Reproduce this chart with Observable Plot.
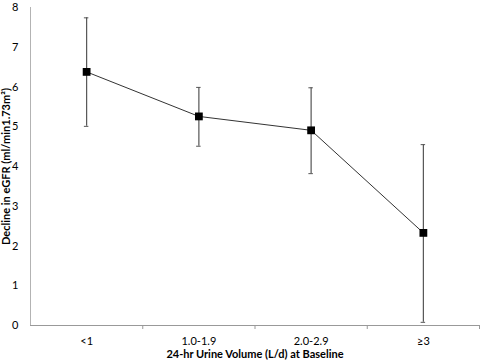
<!DOCTYPE html>
<html>
<head>
<meta charset="utf-8">
<script src="https://cdn.jsdelivr.net/npm/d3@7"></script>
<script src="https://cdn.jsdelivr.net/npm/@observablehq/plot@0.6"></script>
<style>
  html, body { margin: 0; padding: 0; background: #fff; }
  #chart svg [aria-label="x-axis label"],
  #chart svg [aria-label="y-axis label"] { font-weight: bold; }
</style>
</head>
<body>
<div id="chart"></div>
<script>
const categories = ["<1", "1.0-1.9", "2.0-2.9", "≥3"];
const means = [6.38, 5.26, 4.91, 2.33];
const lower = [5.01, 4.51, 3.82, 0.08];
const upper = [7.74, 5.99, 5.98, 4.55];
const yTicks = [0, 1, 2, 3, 4, 5, 6, 7, 8];

const data = categories.map((c, i) => ({
  cat: c, pos: i + 0.5, mean: means[i], lo: lower[i], hi: upper[i]
}));
const boundaries = categories.map((c, i) => i + 1);
const capHalf = 0.02;

const plot = Plot.plot({
  width: 480,
  height: 361,
  marginLeft: 30,
  marginRight: 1,
  marginTop: 7,
  marginBottom: 36,
  style: { fontFamily: "Lato, 'Open Sans', sans-serif", fontSize: "11px", color: "#000", background: "#fff" },
  x: { domain: [0, categories.length] },
  y: { domain: [0, 8] },
  marks: [
    Plot.frame({ anchor: "left", stroke: "#b3b3b3" }),
    Plot.ruleY([0], { stroke: "#999" }),
    Plot.axisY({ ticks: yTicks, tickSize: 0, tickPadding: 12, label: "Decline in eGFR (ml/min1.73m²)", labelAnchor: "center", labelOffset: 28, labelArrow: "none" }),
    Plot.axisX({ ticks: data.map(d => d.pos), tickFormat: (v) => categories[Math.round(v - 0.5)], tickSize: 0, tickPadding: 12, label: "24-hr Urine Volume (L/d) at Baseline", labelAnchor: "center", labelOffset: 32, labelArrow: "none" }),
    Plot.axisX({ ticks: boundaries, tickFormat: () => "", tickSize: 4, stroke: "#999", label: null }),
    Plot.ruleX(data, { x: "pos", y1: "lo", y2: "hi", stroke: "#555", strokeWidth: 1.2 }),
    Plot.ruleY(data, { y: "hi", x1: d => d.pos - capHalf, x2: d => d.pos + capHalf, stroke: "#555" }),
    Plot.ruleY(data, { y: "lo", x1: d => d.pos - capHalf, x2: d => d.pos + capHalf, stroke: "#555" }),
    Plot.line(data, { x: "pos", y: "mean", stroke: "#333", strokeWidth: 1 }),
    Plot.dot(data, { x: "pos", y: "mean", symbol: "square", r: 4.4, fill: "#000", stroke: "none" })
  ]
});
document.getElementById("chart").appendChild(plot);
</script>
</body>
</html>
